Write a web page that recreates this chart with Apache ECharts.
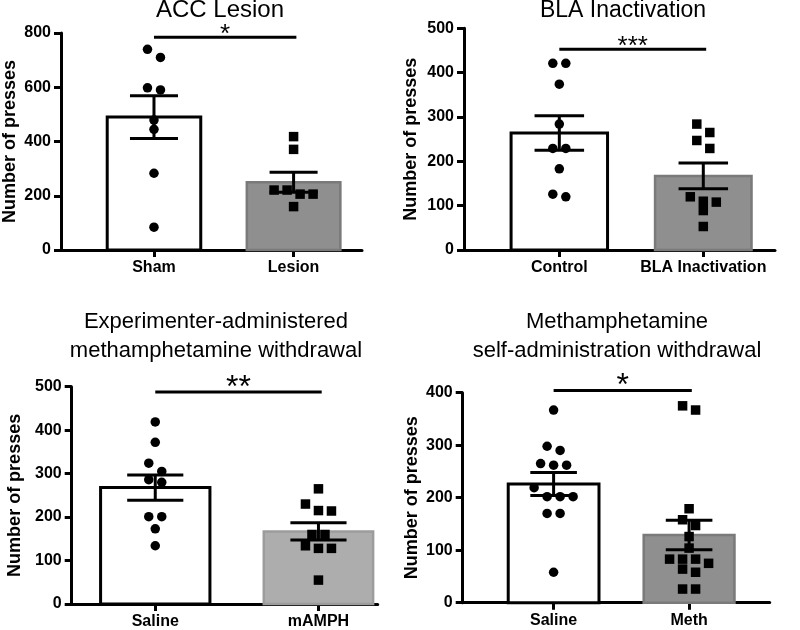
<!DOCTYPE html>
<html><head><meta charset="utf-8">
<script src="https://cdn.jsdelivr.net/npm/echarts@6/dist/echarts.min.js"></script>
<style>html,body{margin:0;padding:0;background:#fff}#c{width:800px;height:630px}</style>
</head><body><div id="c"></div>
<script>
// ---------- DATA ----------
// Panel 1: ACC Lesion
const accCategories = ['Sham', 'Lesion'];
const accSham = [740, 710, 598, 590, 479, 445, 283, 84];
const accLesion = [418, 371, 221, 221, 206, 206, 160];
const accMeans = [490, 250];
const accSem = [79, 37];
const accTicks = [0, 200, 400, 600, 800];
const accSig = '*';

// Panel 2: BLA Inactivation
const blaCategories = ['Control', 'BLA Inactivation'];
const blaControl = [421, 421, 374, 284, 229, 229, 183, 126, 120];
const blaInact = [284, 265, 247, 229, 120, 110, 108, 89, 53];
const blaMeans = [264, 167];
const blaSem = [39, 29];
const blaTicks = [0, 100, 200, 300, 400, 500];
const blaSig = '***';

// Panel 3: Experimenter-administered methamphetamine withdrawal
const expCategories = ['Saline', 'mAMPH'];
const expSaline = [419, 372, 324, 305, 286, 280, 201, 201, 173, 134];
const expMamph = [265, 230, 215, 214, 160, 160, 134, 128, 128, 55];
const expMeans = [268, 167];
const expSem = [29, 20];
const expTicks = [0, 100, 200, 300, 400, 500];
const expSig = '**';

// Panel 4: Methamphetamine self-administration withdrawal
const selfCategories = ['Saline', 'Meth'];
const selfSaline = [367, 298, 290, 265, 262, 262, 219, 202, 202, 202, 170, 170, 58];
const selfMeth = [375, 367, 179, 158, 147, 126, 104, 83, 83, 83, 75, 64, 58, 26, 26];
const selfMeans = [226, 129];
const selfSem = [22, 28];
const selfTicks = [0, 100, 200, 300, 400];
const selfSig = '*';

// ---------- LAYOUT / STYLE ----------
const FONT = '"Liberation Sans", Arial, Helvetica, sans-serif';
const panels = [
  { cats: accCategories, groups: [accSham, accLesion], means: accMeans, sem: accSem, ticks: accTicks, sig: accSig,
    sigY: 784, sigFont: 26, sigDy: -2.5,
    grid: { left: 60, top: 33, width: 302, height: 217 }, xRange: [0.334, 2.49], nameGap: 42,
    fills: ['#ffffff', '#8f8f8f'], strokes: ['#000000', '#7a7a7a'], shapes: ['circle', 'rect'],
    titles: [{ text: 'ACC Lesion', x: 220, y: 10.5, size: 24 }] },
  { cats: blaCategories, groups: [blaControl, blaInact], means: blaMeans, sem: blaSem, ticks: blaTicks, sig: blaSig,
    sigY: 453, sigFont: 26, sigDy: -2.5,
    grid: { left: 464, top: 28.3, width: 311, height: 221.7 }, xRange: [0.338, 2.498], nameGap: 44,
    fills: ['#ffffff', '#8f8f8f'], strokes: ['#000000', '#7a7a7a'], shapes: ['circle', 'rect'],
    titles: [{ text: 'BLA Inactivation', x: 623, y: 11, size: 23 }] },
  { cats: expCategories, groups: [expSaline, expMamph], means: expMeans, sem: expSem, ticks: expTicks, sig: expSig,
    sigY: 488, sigFont: 32, sigDy: -4,
    grid: { left: 71.7, top: 386.7, width: 306, height: 219.3 }, xRange: [0.488, 2.363], nameGap: 48,
    fills: ['#ffffff', '#adadad'], strokes: ['#000000', '#9c9c9c'], shapes: ['circle', 'rect'],
    titles: [{ text: 'Experimenter-administered', x: 216, y: 322, size: 22 },
             { text: 'methamphetamine withdrawal', x: 216, y: 351, size: 22 }] },
  { cats: selfCategories, groups: [selfSaline, selfMeth], means: selfMeans, sem: selfSem, ticks: selfTicks, sig: selfSig,
    sigY: 404, sigFont: 32, sigDy: -4.5,
    grid: { left: 462.7, top: 392.7, width: 307, height: 210 }, xRange: [0.329, 2.595], nameGap: 42,
    fills: ['#ffffff', '#8f8f8f'], strokes: ['#000000', '#7a7a7a'], shapes: ['circle', 'rect'],
    titles: [{ text: 'Methamphetamine', x: 617, y: 322, size: 22 },
             { text: 'self-administration withdrawal', x: 617, y: 351, size: 22 }] }
];
const BAR_W = 0.67, CAP_HALF = 0.172, DOT = 9.5, SPACING = 13, BIN_H = 9;

function swarm(ys) {
  const idx = ys.map((y, i) => i).sort((a, b) => ys[a] - ys[b]);
  const off = new Array(ys.length).fill(0);
  let i = 0;
  while (i < idx.length) {
    const start = ys[idx[i]];
    let j = i;
    while (j < idx.length && ys[idx[j]] - start < BIN_H) j++;
    const n = j - i;
    for (let k = 0; k < n; k++) off[idx[i + k]] = (k - (n - 1) / 2) * SPACING;
    i = j;
  }
  return off;
}

const grids = [], xAxes = [], yAxes = [], series = [], graphics = [];
panels.forEach((p, pi) => {
  grids.push(Object.assign({ containLabel: false }, p.grid));
  xAxes.push({
    gridIndex: pi, type: 'value', min: p.xRange[0], max: p.xRange[1],
    axisLine: { show: true, onZero: false, lineStyle: { color: '#000', width: 3 } },
    axisTick: { show: true, customValues: [1, 2], length: 7, lineStyle: { color: '#000', width: 3 } },
    axisLabel: { show: true, customValues: [1, 2], formatter: v => p.cats[Math.round(v) - 1] || '',
      fontFamily: FONT, fontWeight: 'bold', fontSize: 16, color: '#000', margin: 10 },
    splitLine: { show: false }
  });
  yAxes.push({
    gridIndex: pi, type: 'value', min: p.ticks[0], max: p.ticks[p.ticks.length - 1], interval: p.ticks[1] - p.ticks[0],
    name: 'Number of presses', nameLocation: 'middle', nameGap: p.nameGap, nameRotate: 90,
    nameTextStyle: { fontFamily: FONT, fontWeight: 'bold', fontSize: 18, color: '#000' },
    axisLine: { show: true, onZero: false, lineStyle: { color: '#000', width: 3 } },
    axisTick: { show: true, length: 7, lineStyle: { color: '#000', width: 3 } },
    axisLabel: { fontFamily: FONT, fontWeight: 'bold', fontSize: 16, color: '#000', margin: 10 },
    splitLine: { show: false }
  });
  const barData = p.means.map((m, i) => [i + 1, m, p.sem[i]]);
  // bars
  series.push({
    type: 'custom', xAxisIndex: pi, yAxisIndex: pi, data: barData, encode: { x: 0, y: 1 }, z: 2,
    renderItem: (params, api) => {
      const x = api.value(0), m = api.value(1);
      const a = api.coord([x - BAR_W / 2, m]), b = api.coord([x + BAR_W / 2, 0]);
      return { type: 'rect', shape: { x: a[0], y: a[1], width: b[0] - a[0], height: b[1] - a[1] },
        style: { fill: p.fills[params.dataIndex], stroke: p.strokes[params.dataIndex], lineWidth: params.dataIndex === 0 ? 3 : 2.5 } };
    }
  });
  // points
  series.push({
    type: 'custom', xAxisIndex: pi, yAxisIndex: pi, data: [[1, 0], [2, 0]], encode: { x: 0, y: 1 }, z: 3,
    renderItem: (params, api) => {
      const gi = params.dataIndex, cx = api.value(0), vals = p.groups[gi];
      const pts = vals.map(v => api.coord([cx, v]));
      const off = swarm(pts.map(q => q[1]));
      const children = pts.map((q, k) => p.shapes[gi] === 'circle'
        ? { type: 'circle', shape: { cx: q[0] + off[k], cy: q[1], r: DOT / 2 }, style: { fill: '#000' } }
        : { type: 'rect', shape: { x: q[0] + off[k] - DOT / 2, y: q[1] - DOT / 2, width: DOT, height: DOT }, style: { fill: '#000' } });
      return { type: 'group', children };
    }
  });
  // error bars
  series.push({
    type: 'custom', xAxisIndex: pi, yAxisIndex: pi, data: barData, encode: { x: 0, y: 1 }, z: 4,
    renderItem: (params, api) => {
      const x = api.value(0), m = api.value(1), s = api.value(2);
      const top = api.coord([x, m + s]), bot = api.coord([x, m - s]);
      const l = api.coord([x - CAP_HALF, m])[0], r = api.coord([x + CAP_HALF, m])[0];
      const st = { stroke: '#000', lineWidth: 3 };
      return { type: 'group', children: [
        { type: 'line', shape: { x1: top[0], y1: top[1], x2: bot[0], y2: bot[1] }, style: st },
        { type: 'line', shape: { x1: l, y1: top[1], x2: r, y2: top[1] }, style: st },
        { type: 'line', shape: { x1: l, y1: bot[1], x2: r, y2: bot[1] }, style: st }
      ] };
    }
  });
  // significance bracket
  series.push({
    type: 'custom', xAxisIndex: pi, yAxisIndex: pi, data: [[1, p.sigY]], encode: { x: 0, y: 1 }, z: 5, clip: false,
    renderItem: (params, api) => {
      const a = api.coord([1.0, p.sigY]), b = api.coord([2.02, p.sigY]);
      return { type: 'group', children: [
        { type: 'line', shape: { x1: a[0], y1: a[1], x2: b[0], y2: b[1] }, style: { stroke: '#000', lineWidth: 3 } },
        { type: 'text', x: (a[0] + b[0]) / 2, y: a[1] + p.sigDy,
          style: { text: p.sig, fontFamily: FONT, fontSize: p.sigFont, fill: '#000', align: 'center', verticalAlign: 'middle' } }
      ] };
    }
  });
  p.titles.forEach(t => graphics.push({
    type: 'text', x: t.x, y: t.y,
    style: { text: t.text, fontFamily: FONT, fontSize: t.size, fill: '#000', align: 'center', verticalAlign: 'middle',
      textAlign: 'center', textVerticalAlign: 'middle' }
  }));
});

const chart = echarts.init(document.getElementById('c'), null, { renderer: 'canvas' });
chart.setOption({
  animation: false,
  backgroundColor: '#ffffff',
  grid: grids, xAxis: xAxes, yAxis: yAxes, series, graphic: graphics
});
</script></body></html>
